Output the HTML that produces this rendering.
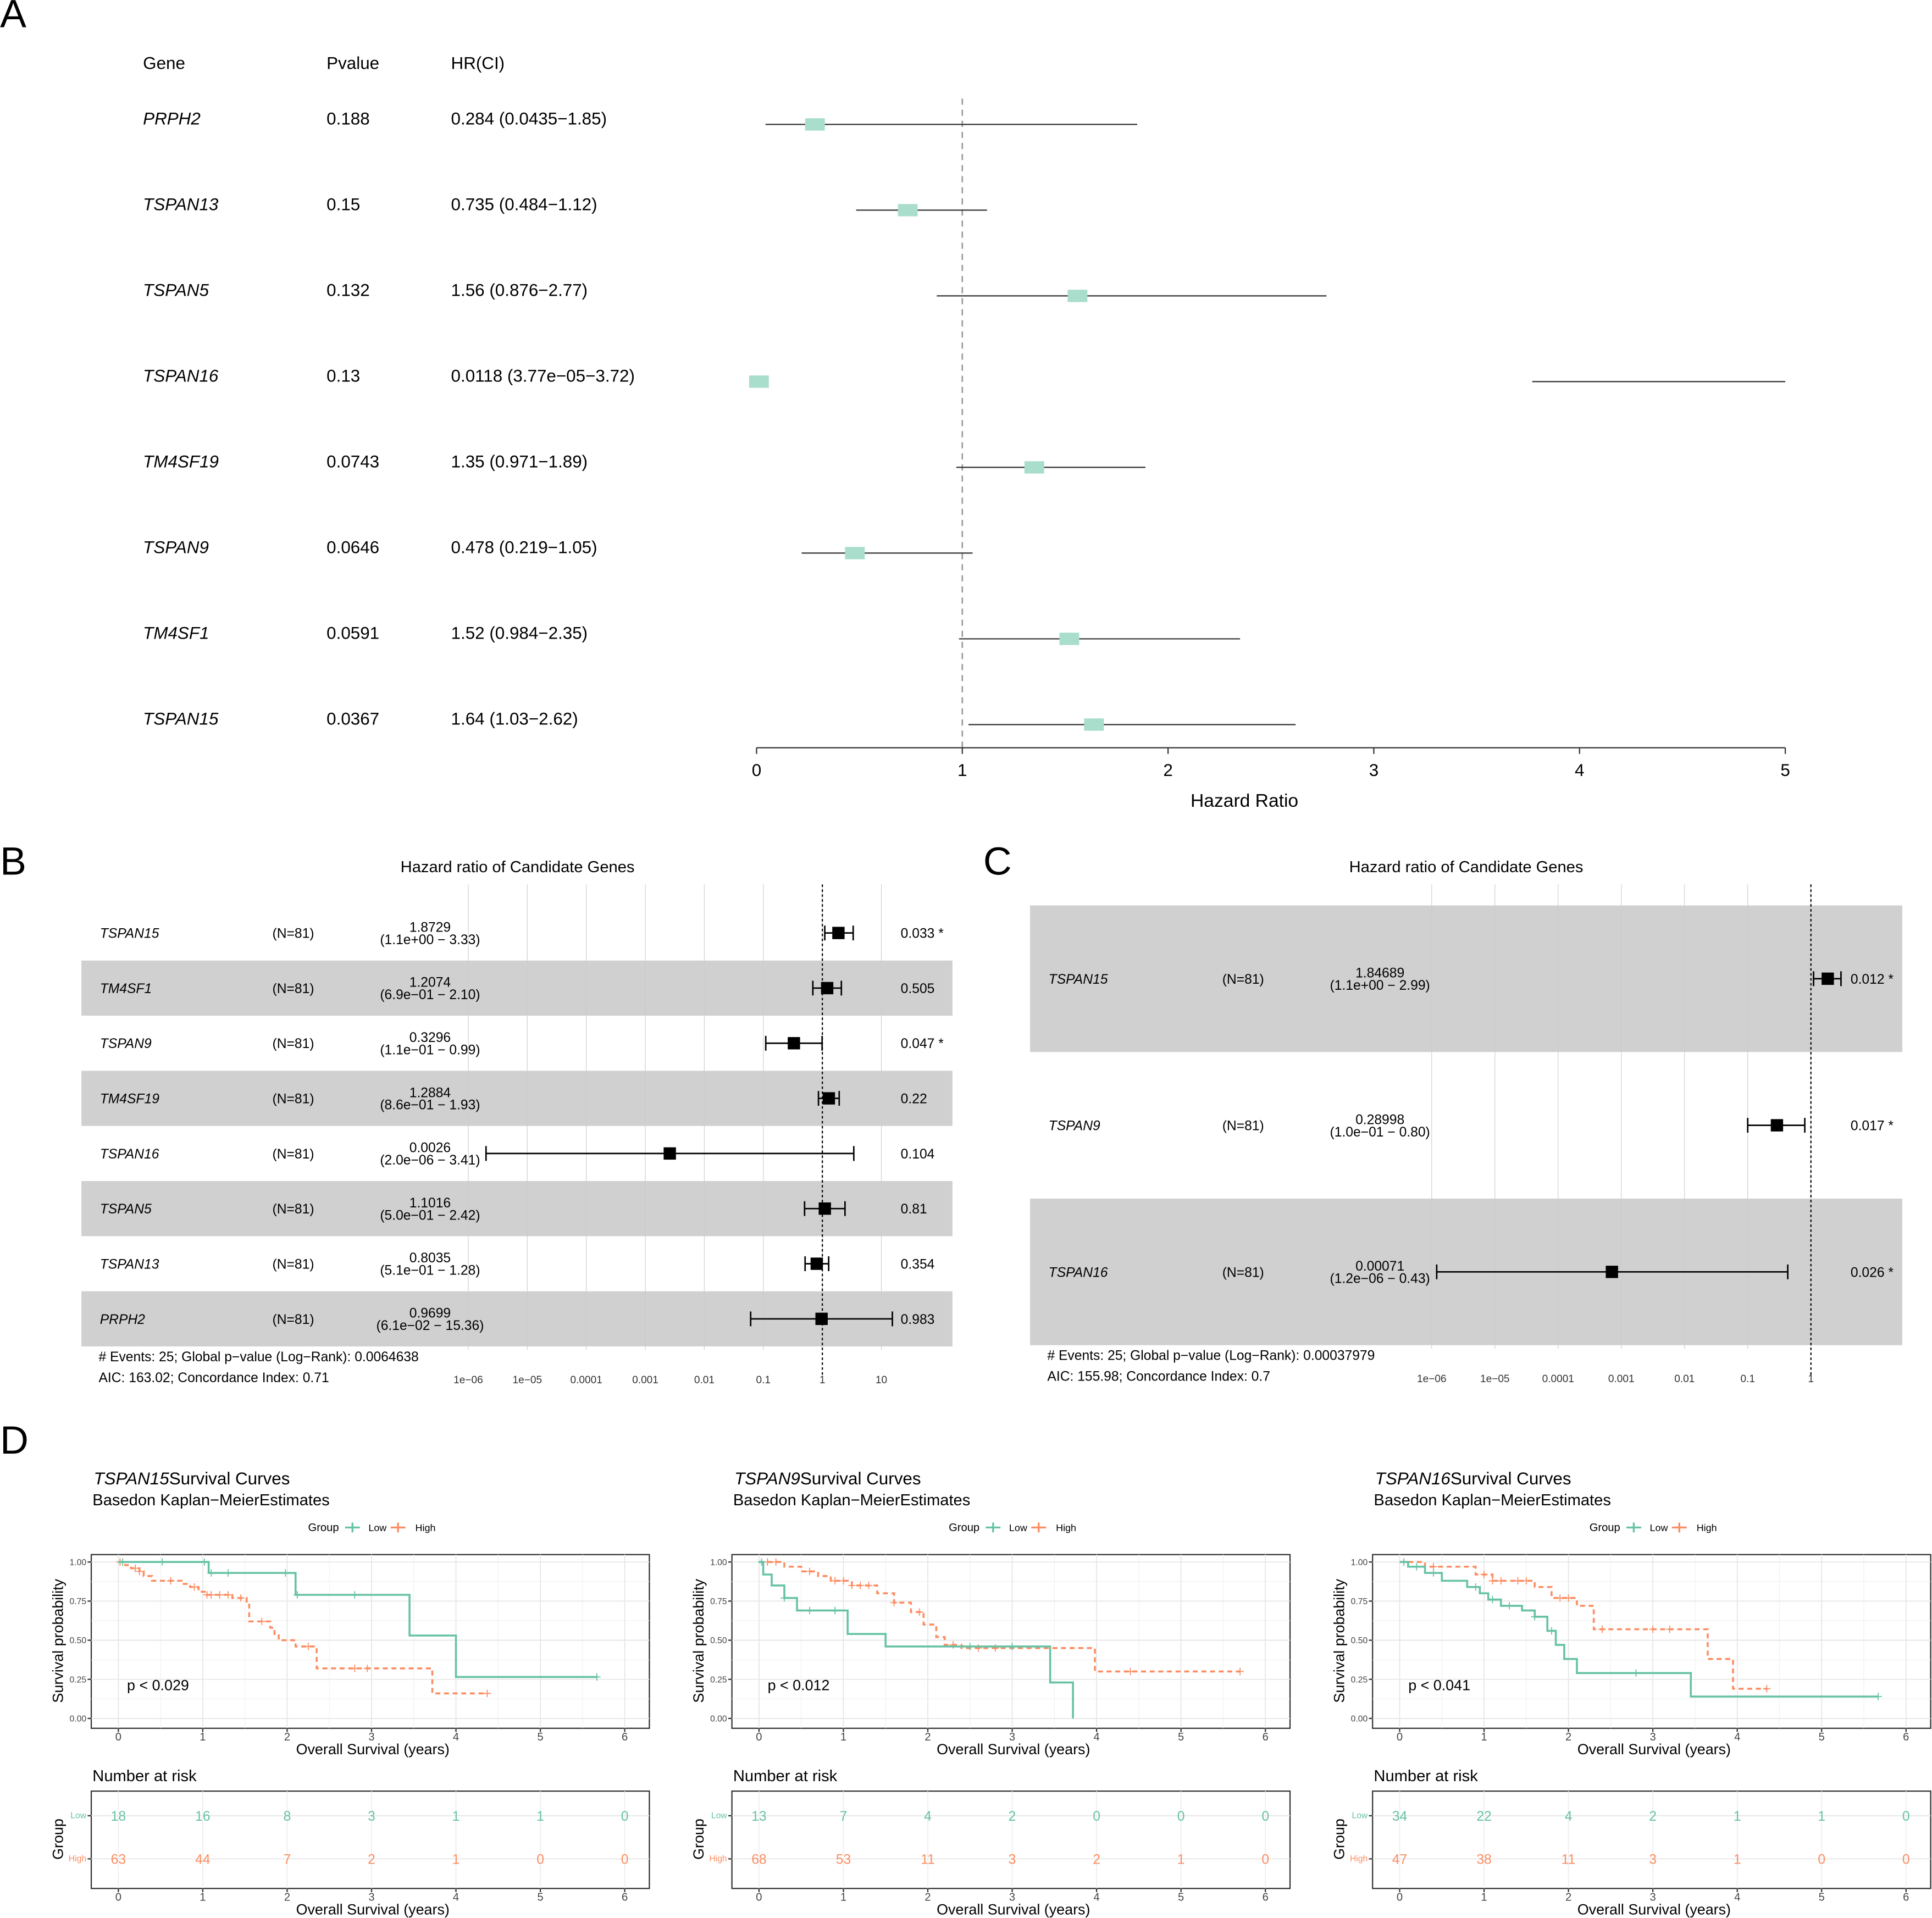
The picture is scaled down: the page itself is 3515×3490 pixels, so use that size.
<!DOCTYPE html>
<html><head><meta charset="utf-8"><style>
html,body{margin:0;padding:0;background:#fff}
svg{display:block;font-family:"Liberation Sans",sans-serif}
</style></head><body>
<svg id="root" xmlns="http://www.w3.org/2000/svg" width="3515" height="3490" viewBox="0 0 1568 1557">
<rect width="1568" height="1557" fill="#fff"/>
<g id="A"></g>
<g id="B"></g>
<g id="C"></g>
<g id="D"></g>
</svg>
<script>
// ---------- Panel A data ----------
const aGenes=["PRPH2","TSPAN13","TSPAN5","TSPAN16","TM4SF19","TSPAN9","TM4SF1","TSPAN15"];
const aP=["0.188","0.15","0.132","0.13","0.0743","0.0646","0.0591","0.0367"];
const aHRtxt=["0.284 (0.0435−1.85)","0.735 (0.484−1.12)","1.56 (0.876−2.77)","0.0118 (3.77e−05−3.72)","1.35 (0.971−1.89)","0.478 (0.219−1.05)","1.52 (0.984−2.35)","1.64 (1.03−2.62)"];
const aHR=[0.284,0.735,1.56,0.0118,1.35,0.478,1.52,1.64];
const aLo=[0.0435,0.484,0.876,3.77,0.971,0.219,0.984,1.03];
const aHi=[1.85,1.12,2.77,5,1.89,1.05,2.35,2.62];
const aTicks=[0,1,2,3,4,5];
// ---------- Panel B data ----------
const bGenes=["TSPAN15","TM4SF1","TSPAN9","TM4SF19","TSPAN16","TSPAN5","TSPAN13","PRPH2"];
const bHR=[1.8729,1.2074,0.3296,1.2884,0.0026,1.1016,0.8035,0.9699];
const bLo=[1.1,0.69,0.11,0.86,2.0e-6,0.50,0.51,0.061];
const bHi=[3.33,2.10,0.99,1.93,3.41,2.42,1.28,15.36];
const bHRtxt=["1.8729","1.2074","0.3296","1.2884","0.0026","1.1016","0.8035","0.9699"];
const bCItxt=["(1.1e+00 − 3.33)","(6.9e−01 − 2.10)","(1.1e−01 − 0.99)","(8.6e−01 − 1.93)","(2.0e−06 − 3.41)","(5.0e−01 − 2.42)","(5.1e−01 − 1.28)","(6.1e−02 − 15.36)"];
const bPtxt=["0.033 *","0.505","0.047 *","0.22","0.104","0.81","0.354","0.983"];
const bTicks=[1e-6,1e-5,1e-4,1e-3,0.01,0.1,1,10];
const bTickLbl=["1e−06","1e−05","0.0001","0.001","0.01","0.1","1","10"];
// ---------- Panel C data ----------
const cGenes=["TSPAN15","TSPAN9","TSPAN16"];
const cHR=[1.84689,0.28998,0.00071];
const cLo=[1.1,0.10,1.2e-6];
const cHi=[2.99,0.80,0.43];
const cHRtxt=["1.84689","0.28998","0.00071"];
const cCItxt=["(1.1e+00 − 2.99)","(1.0e−01 − 0.80)","(1.2e−06 − 0.43)"];
const cPtxt=["0.012 *","0.017 *","0.026 *"];
const cTicks=[1e-6,1e-5,1e-4,1e-3,0.01,0.1,1];
const cTickLbl=["1e−06","1e−05","0.0001","0.001","0.01","0.1","1"];
// ---------- Panel D data ----------
const dGenes=["TSPAN15","TSPAN9","TSPAN16"];
const dPval=["p < 0.029","p < 0.012","p < 0.041"];
const dLowT=[[0,1.07,2.1,3.45,4.0,5.67],[0,0.05,0.15,0.3,0.45,1.05,1.5,3.45,3.72],[0,0.1,0.3,0.5,0.8,0.95,1.05,1.2,1.45,1.6,1.75,1.85,1.95,2.1,3.45,5.67]];
const dLowS=[[1,0.93,0.79,0.53,0.265,0.265],[1,0.92,0.85,0.77,0.69,0.54,0.46,0.23,0],[1,0.97,0.93,0.88,0.84,0.8,0.76,0.72,0.69,0.65,0.56,0.47,0.38,0.29,0.14,0.14]];
const dHighT=[[0,0.08,0.15,0.25,0.3,0.4,0.75,0.85,0.95,1.05,1.35,1.52,1.55,1.8,1.85,1.9,2.1,2.35,3.72,4.37],[0,0.3,0.5,0.7,0.85,1.1,1.4,1.6,1.8,1.95,2.1,2.2,2.4,3.98,5.7],[0,0.3,0.9,1.1,1.6,1.8,2.1,2.3,3.65,3.95,4.35]];
const dHighS=[[1,0.98,0.96,0.94,0.91,0.88,0.86,0.84,0.81,0.79,0.77,0.74,0.62,0.58,0.54,0.5,0.46,0.32,0.16,0.16],[1,0.97,0.94,0.91,0.88,0.85,0.8,0.74,0.68,0.6,0.52,0.47,0.45,0.3,0.3],[1,0.97,0.92,0.88,0.84,0.77,0.72,0.57,0.38,0.19,0.19]];
const dLowCens=[[0.05,0.52,1.02,1.1,1.3,1.98,2.12,2.8,5.67],[0.03,0.3,0.6,0.9,2.5,3.0],[0.05,0.2,0.4,0.9,1.1,1.3,1.6,1.8,2.8,5.67]];
const dHighCens=[[0.02,0.2,0.25,0.62,0.9,1.05,1.1,1.2,1.3,1.45,1.7,2.25,2.8,2.95,4.37],[0.1,0.2,0.6,0.9,1.0,1.1,1.2,1.3,1.6,1.9,2.3,2.6,2.8,4.4,5.7],[0.05,0.4,1.0,1.1,1.2,1.4,1.5,1.9,2.0,2.4,3.0,3.2,4.35]];
const dRiskLow=[[18,16,8,3,1,1,0],[13,7,4,2,0,0,0],[34,22,4,2,1,1,0]];
const dRiskHigh=[[63,44,7,2,1,0,0],[68,53,11,3,2,1,0],[47,38,11,3,1,0,0]];
const dTicks=[0,1,2,3,4,5,6];

const NS="http://www.w3.org/2000/svg";
function el(parent,tag,attrs,text){const e=document.createElementNS(NS,tag);for(const k in attrs)e.setAttribute(k,attrs[k]);if(text!==undefined)e.textContent=text;parent.appendChild(e);return e;}
const TEAL="#66C2A5",ORANGE="#FC8D62",LTEAL="#a9ddcc";

const root=document.getElementById('root');
[["A",0,22],["B",0,710],["C",798,710],["D",0,1180]].forEach(([t,x,y])=>{const e=el(root,'text',{x:x,y:y,'font-size':32},t);});

// ---------- A ----------
(function(){
const g=document.getElementById('A');
const xA=v=>614+v*167;
const rowY=i=>96+i*69.6;
[["Gene",116],["Pvalue",265],["HR(CI)",366]].forEach(([t,x])=>{const e=el(g,'text',{x:x,y:56,'font-size':14},t);});
const dl=el(g,'line',{x1:xA(1),x2:xA(1),y1:80,y2:607,stroke:'#999','stroke-dasharray':'5,4','stroke-width':1.2});

aGenes.forEach((gn,i)=>{const y=rowY(i);
 let e=el(g,'text',{x:116,y:y+5,'font-size':14,'font-style':'italic'},gn);
 e=el(g,'text',{x:265,y:y+5,'font-size':14},aP[i]);
 e=el(g,'text',{x:366,y:y+5,'font-size':14},aHRtxt[i]);
 e=el(g,'line',{x1:xA(aLo[i]),x2:xA(Math.min(aHi[i],5)),y1:y+5,y2:y+5,stroke:'#333','stroke-width':1});
 e=el(g,'rect',{x:xA(aHR[i])-8,y:y,width:16,height:10,fill:LTEAL});
});
let ax=el(g,'line',{x1:xA(0),x2:xA(5),y1:607,y2:607,stroke:'#333'});
aTicks.forEach(t=>{el(g,'line',{x1:xA(t),x2:xA(t),y1:607,y2:612,stroke:'#333'});const e=el(g,'text',{x:xA(t),y:630,'font-size':14,'text-anchor':'middle'},t);});
const tt=el(g,'text',{x:1010,y:655,'font-size':15,'text-anchor':'middle'},'Hazard Ratio');
})();

// ---------- B / C generic ----------
function forest(gid,o){
 const g=document.getElementById(gid);
 const xs=v=>o.x1+(Math.log10(v)-Math.log10(o.t0))*o.dec;
 const n=o.genes.length, rh=(o.bot-o.top)/n;
 let e=el(g,'text',{x:o.titleX,y:708,'font-size':13,'text-anchor':'middle'},'Hazard ratio of Candidate Genes');
 o.genes.forEach((gn,i)=>{ if(i%2===o.shadeParity){const r=el(g,'rect',{x:o.L,y:o.top+i*rh,width:o.R-o.L,height:rh,fill:'#d0d0d0'});}});
 o.ticks.forEach((t,k)=>{el(g,'line',{x1:xs(t),x2:xs(t),y1:o.gridTop,y2:o.bot+3,stroke:'#ccc','stroke-width':0.5});
  const e=el(g,'text',{x:xs(t),y:o.bot+30,'font-size':8.5,'text-anchor':'middle',fill:'#333'},o.tickLbl[k]);});
 e=el(g,'line',{x1:xs(1),x2:xs(1),y1:o.gridTop,y2:o.bot+25,stroke:'#000','stroke-dasharray':'2,2','stroke-width':1});
 o.genes.forEach((gn,i)=>{const y=o.top+(i+0.5)*rh;
  let t=el(g,'text',{x:o.gx,y:y+4,'font-size':11,'font-style':'italic'},gn);
  t=el(g,'text',{x:o.nx,y:y+4,'font-size':11},'(N=81)');
  t=el(g,'text',{x:o.hx,y:y-1,'font-size':11,'text-anchor':'middle'},o.hrT[i]);
  t=el(g,'text',{x:o.hx,y:y+9,'font-size':11,'text-anchor':'middle'},o.ciT[i]);
  t=el(g,'text',{x:o.px,y:y+4,'font-size':11},o.pT[i]);
  const a=xs(o.lo[i]),b=xs(o.hi[i]);
  const l=el(g,'path',{d:`M${a},${y}H${b}M${a},${y-6}V${y+6}M${b},${y-6}V${y+6}`,stroke:'#000','stroke-width':1.2,fill:'none'});
  const s=el(g,'rect',{x:xs(o.hr[i])-5,y:y-5,width:10,height:10,fill:'#000'});
 });
 e=el(g,'text',{x:o.L+14,y:o.bot+12,'font-size':11},o.foot1);
 e=el(g,'text',{x:o.L+14,y:o.bot+29,'font-size':11},o.foot2);
}
forest('B',{genes:bGenes,hr:bHR,lo:bLo,hi:bHi,hrT:bHRtxt,ciT:bCItxt,pT:bPtxt,ticks:bTicks,tickLbl:bTickLbl,t0:1e-6,x1:380,dec:47.9,L:66,R:773,top:735,bot:1093,gridTop:718,shadeParity:1,gx:81,nx:221,hx:349,px:731,titleX:420,foot1:'# Events: 25; Global p−value (Log−Rank): 0.0064638',foot2:'AIC: 163.02; Concordance Index: 0.71'});
forest('C',{genes:cGenes,hr:cHR,lo:cLo,hi:cHi,hrT:cHRtxt,ciT:cCItxt,pT:cPtxt,ticks:cTicks,tickLbl:cTickLbl,t0:1e-6,x1:1162,dec:51.3,L:836,R:1544,top:735,bot:1092,gridTop:718,shadeParity:0,gx:851,nx:992,hx:1120,px:1502,titleX:1190,foot1:'# Events: 25; Global p−value (Log−Rank): 0.00037979',foot2:'AIC: 155.98; Concordance Index: 0.7'});

// ---------- D ----------
(function(){
const g=document.getElementById('D');
dGenes.forEach((gn,p)=>{
 const ox=p*520;
 const L=74+ox,R=527+ox,T=1262,B=1403;
 const xs=t=>96+ox+t*68.5, ys=s=>1395-s*127;
 const pg=el(g,'g',{});
 let t=el(pg,'text',{x:76+ox,y:1205,'font-size':14});
 el(t,'tspan',{'font-style':'italic'},gn);el(t,'tspan',{},'Survival Curves');
 
 t=el(pg,'text',{x:75+ox,y:1222,'font-size':13},'Basedon Kaplan−MeierEstimates');
 const lg=el(pg,'g',{});
 el(lg,'text',{x:250+ox,y:1243,'font-size':9},'Group');
 el(lg,'path',{d:`M${280+ox},1240h12M${286+ox},1236v8`,stroke:TEAL,'stroke-width':1.5});
 el(lg,'text',{x:299+ox,y:1243,'font-size':8},'Low');
 el(lg,'path',{d:`M${317+ox},1240h12M${323+ox},1236v8`,stroke:ORANGE,'stroke-width':1.5});
 el(lg,'text',{x:337+ox,y:1243,'font-size':8},'High');
 let r=el(pg,'rect',{x:L,y:T,width:R-L,height:B-T,fill:'#fff',stroke:'#333','stroke-width':1});
 [0.125,0.375,0.625,0.875].forEach(v=>el(pg,'line',{x1:L,x2:R,y1:ys(v),y2:ys(v),stroke:'#f0f0f0','stroke-width':0.5}));
 [0.5,1.5,2.5,3.5,4.5,5.5].forEach(v=>el(pg,'line',{x1:xs(v),x2:xs(v),y1:T,y2:B,stroke:'#f0f0f0','stroke-width':0.5}));
 [0,0.25,0.5,0.75,1].forEach(v=>{el(pg,'line',{x1:L,x2:R,y1:ys(v),y2:ys(v),stroke:'#e6e6e6','stroke-width':0.8});el(pg,'line',{x1:L-3,x2:L,y1:ys(v),y2:ys(v),stroke:'#333'});
  const e=el(pg,'text',{x:L-4,y:ys(v)+2.5,'font-size':7,'text-anchor':'end',fill:'#444'},v.toFixed(2));});
 dTicks.forEach(v=>{el(pg,'line',{x1:xs(v),x2:xs(v),y1:T,y2:B,stroke:'#e6e6e6','stroke-width':0.8});el(pg,'line',{x1:xs(v),x2:xs(v),y1:B,y2:B+3,stroke:'#333'});
  let e=el(pg,'text',{x:xs(v),y:B+10,'font-size':9,'text-anchor':'middle',fill:'#444'},v);});
 t=el(pg,'text',{x:(L+R)/2+2,y:1424,'font-size':12,'text-anchor':'middle'},'Overall Survival (years)');
 t=el(pg,'text',{x:0,y:0,'font-size':12,'text-anchor':'middle',transform:`translate(${51+ox},1332) rotate(-90)`},'Survival probability');
 t=el(pg,'text',{x:103+ox,y:1372,'font-size':12},dPval[p]);
 function step(T_,S_,col,dash,name,cens){
  let d=`M${xs(T_[0])},${ys(S_[0])}`;
  for(let i=1;i<T_.length;i++){d+=`H${xs(T_[i])}V${ys(S_[i])}`;}
  const pth=el(pg,'path',{d:d,fill:'none',stroke:col,'stroke-width':1.6,'stroke-dasharray':dash});
  cens.forEach(c=>{let s=S_[0];for(let i=0;i<T_.length;i++){if(T_[i]<=c)s=S_[i];}
   const m=el(pg,'path',{d:`M${xs(c)-3},${ys(s)}h6M${xs(c)},${ys(s)-3}v6`,stroke:col,'stroke-width':0.8});});
 }
 step(dHighT[p],dHighS[p],ORANGE,'4,3','high-curve',dHighCens[p]);
 step(dLowT[p],dLowS[p],TEAL,'','low-curve',dLowCens[p]);
 t=el(pg,'text',{x:75+ox,y:1446,'font-size':13},'Number at risk');
 const RT=1454,RB=1533;
 r=el(pg,'rect',{x:L,y:RT,width:R-L,height:RB-RT,fill:'#fff',stroke:'#333','stroke-width':1});
 [1474,1509].forEach(y=>{el(pg,'line',{x1:L,x2:R,y1:y,y2:y,stroke:'#e6e6e6','stroke-width':0.8});el(pg,'line',{x1:L-3,x2:L,y1:y,y2:y,stroke:'#333'});});
 dTicks.forEach((v,k)=>{el(pg,'line',{x1:xs(v),x2:xs(v),y1:RT,y2:RB,stroke:'#eee','stroke-width':0.8});el(pg,'line',{x1:xs(v),x2:xs(v),y1:RB,y2:RB+3,stroke:'#333'});
  let e=el(pg,'text',{x:xs(v),y:1478,'font-size':11,'text-anchor':'middle',fill:TEAL},dRiskLow[p][k]);
  e=el(pg,'text',{x:xs(v),y:1513,'font-size':11,'text-anchor':'middle',fill:ORANGE},dRiskHigh[p][k]);
  e=el(pg,'text',{x:xs(v),y:RB+10,'font-size':9,'text-anchor':'middle',fill:'#444'},v);});
 el(pg,'text',{x:L-4,y:1476,'font-size':7,'text-anchor':'end',fill:TEAL},'Low');
 el(pg,'text',{x:L-4,y:1511,'font-size':7,'text-anchor':'end',fill:ORANGE},'High');
 t=el(pg,'text',{x:0,y:0,'font-size':12,'text-anchor':'middle',transform:`translate(${51+ox},1493) rotate(-90)`},'Group');
 t=el(pg,'text',{x:(L+R)/2+2,y:1554,'font-size':12,'text-anchor':'middle'},'Overall Survival (years)');
});
})();
</script>
</body></html>
